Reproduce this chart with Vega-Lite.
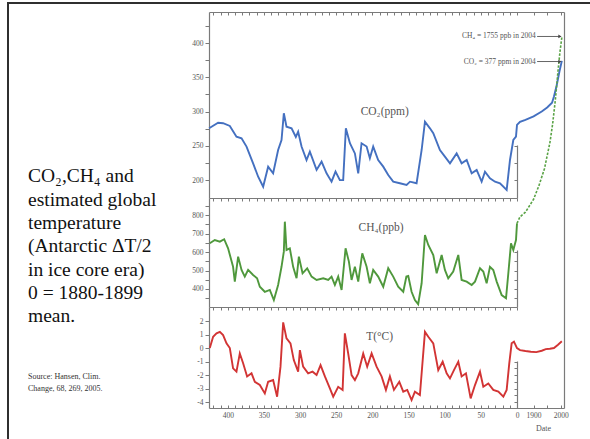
{
  "$schema": "https://vega.github.io/schema/vega-lite/v6.json",
  "width": 582,
  "height": 436,
  "autosize": {"type": "none"},
  "padding": {"left": 8, "top": 3, "right": 0, "bottom": 0},
  "background": "white",
  "config": {
    "view": {"stroke": "#2f2f2f", "strokeWidth": 2, "strokeDash": [582, 1018, 436]},
    "axis": {"grid": false, "domainColor": "#7a7a7a", "domainWidth": 1.2, "tickColor": "#7a7a7a", "tickWidth": 1, "labelFont": "Liberation Serif", "labelFontSize": 7.5, "labelColor": "#555", "labelPadding": 2, "labelOverlap": false, "labelFlush": false},
    "text": {"font": "Liberation Serif"}
  },
  "title": {
    "text": ["CO₂,CH₄ and", "estimated global", "temperature", "(Antarctic ΔT/2", "in ice core era)", "0 = 1880-1899", "mean."],
    "subtitle": ["Source: Hansen, Clim.", "Change, 68, 269, 2005."],
    "anchor": "start", "frame": "group", "orient": "top",
    "dx": 20, "dy": 391, "offset": 0, "baseline": "top",
    "font": "Liberation Serif", "fontSize": 19.5, "fontWeight": "normal", "color": "#111", "lineHeight": 23.3,
    "subtitleFont": "Liberation Serif", "subtitleFontSize": 8, "subtitleColor": "#333", "subtitleLineHeight": 12.3, "subtitlePadding": 46
  },
  "datasets": {
    "co2": [
      {"t":-425.9,"v":275.7},{"t":-413.4,"v":283.8},{"t":-406.5,"v":283},{"t":-397.2,"v":279},{"t":-388,"v":263.4},{"t":-381,"v":261},{"t":-374.1,"v":249},{"t":-365,"v":224.6},{"t":-358,"v":205},{"t":-351.1,"v":190.5},{"t":-344.2,"v":219.7},{"t":-337.3,"v":210},{"t":-330.4,"v":244},{"t":-325.7,"v":258.6},{"t":-322.5,"v":297.5},{"t":-318.8,"v":278},{"t":-311.8,"v":275.6},{"t":-305.9,"v":263},{"t":-302.7,"v":270.7},{"t":-298,"v":249},{"t":-291.1,"v":229.4},{"t":-286.5,"v":241.6},{"t":-277.2,"v":215},{"t":-270.3,"v":227},{"t":-263.4,"v":210},{"t":-256.5,"v":197.8},{"t":-251,"v":212.4},{"t":-245,"v":200},{"t":-240.4,"v":200},{"t":-236.7,"v":275.6},{"t":-231.1,"v":253.8},{"t":-224.2,"v":239},{"t":-219.6,"v":210},{"t":-215,"v":253.8},{"t":-208,"v":249},{"t":-203.5,"v":232},{"t":-198.9,"v":249},{"t":-192,"v":229.4},{"t":-185,"v":219.7},{"t":-178.1,"v":207.6},{"t":-171.2,"v":197.8},{"t":-162,"v":195.5},{"t":-152.7,"v":193},{"t":-148,"v":197.8},{"t":-138.9,"v":195.5},{"t":-131.9,"v":244},{"t":-127.3,"v":285.3},{"t":-120.4,"v":275.6},{"t":-115.8,"v":268.4},{"t":-106.6,"v":244},{"t":-99.7,"v":234.3},{"t":-92.7,"v":224.6},{"t":-83.5,"v":239},{"t":-76.6,"v":224.6},{"t":-69.6,"v":229.4},{"t":-62.7,"v":210},{"t":-55.8,"v":215},{"t":-48.9,"v":197.8},{"t":-44.3,"v":212.4},{"t":-37.4,"v":202.7},{"t":-30.4,"v":197.8},{"t":-23.5,"v":195.5},{"t":-14.3,"v":185.7},{"t":-9.7,"v":229.4},{"t":-5.1,"v":258.6},{"t":-1.4,"v":263.4},{"t":0,"v":280.5},
      {"t":1850,"v":285},{"t":1870,"v":288},{"t":1900,"v":293},{"t":1930,"v":300},{"t":1950,"v":306},{"t":1968,"v":313},{"t":1975,"v":322},{"t":1985,"v":338},{"t":1995,"v":358},{"t":2004,"v":374}
    ],
    "ch4": [
      {"t":-424.9,"v":647},{"t":-418,"v":665},{"t":-411,"v":656},{"t":-405,"v":669},{"t":-399.6,"v":620},{"t":-392.7,"v":520},{"t":-390.3,"v":440},{"t":-385.7,"v":575},{"t":-381,"v":503},{"t":-376.5,"v":467},{"t":-371.9,"v":503},{"t":-365,"v":476},{"t":-359.5,"v":458},{"t":-355.7,"v":412},{"t":-348.8,"v":385},{"t":-341.9,"v":395},{"t":-336.3,"v":340},{"t":-330.4,"v":422},{"t":-325.7,"v":520},{"t":-322.5,"v":602},{"t":-321.1,"v":764},{"t":-318.8,"v":611},{"t":-314.2,"v":620},{"t":-309.6,"v":520},{"t":-304.9,"v":458},{"t":-301.7,"v":575},{"t":-296.6,"v":485},{"t":-290.2,"v":512},{"t":-284.1,"v":467},{"t":-277.2,"v":449},{"t":-268,"v":458},{"t":-261.1,"v":449},{"t":-256.5,"v":467},{"t":-251.9,"v":422},{"t":-247.3,"v":467},{"t":-242.6,"v":395},{"t":-237.1,"v":620},{"t":-232.5,"v":548},{"t":-228.8,"v":449},{"t":-224.2,"v":520},{"t":-219.6,"v":440},{"t":-214,"v":593},{"t":-208,"v":520},{"t":-203.5,"v":431},{"t":-198.9,"v":503},{"t":-192,"v":467},{"t":-185,"v":412},{"t":-178.1,"v":512},{"t":-171.2,"v":467},{"t":-164.3,"v":412},{"t":-157.3,"v":385},{"t":-153,"v":467},{"t":-150.4,"v":470},{"t":-145.8,"v":385},{"t":-141.2,"v":340},{"t":-136.7,"v":318},{"t":-131.9,"v":431},{"t":-127.3,"v":692},{"t":-122.7,"v":638},{"t":-115.8,"v":584},{"t":-111.1,"v":485},{"t":-104.2,"v":584},{"t":-99.7,"v":503},{"t":-95.1,"v":458},{"t":-88.2,"v":494},{"t":-81.2,"v":584},{"t":-76.6,"v":449},{"t":-69.6,"v":440},{"t":-62.7,"v":422},{"t":-58.1,"v":440},{"t":-51.2,"v":512},{"t":-46.6,"v":494},{"t":-42,"v":431},{"t":-37.4,"v":520},{"t":-32.8,"v":503},{"t":-28.1,"v":440},{"t":-21.2,"v":367},{"t":-15.2,"v":350},{"t":-12,"v":485},{"t":-8.3,"v":647},{"t":-5.1,"v":611},{"t":-1.4,"v":665},{"t":0,"v":755}
    ],
    "ch4m": [
      {"t":0,"v":755},{"t":1850,"v":790},{"t":1870,"v":815},{"t":1900,"v":885},{"t":1920,"v":960},{"t":1940,"v":1050},{"t":1960,"v":1190},{"t":1970,"v":1290},{"t":1980,"v":1420},{"t":1990,"v":1580},{"t":1997,"v":1680},{"t":2004,"v":1760}
    ],
    "temp": [
      {"t":-424.9,"v":0},{"t":-420.3,"v":0.84},{"t":-415.6,"v":1.09},{"t":-411,"v":1.2},{"t":-406.5,"v":0.96},{"t":-401.8,"v":0.35},{"t":-397.2,"v":0},{"t":-392.7,"v":-1.5},{"t":-388,"v":-1.75},{"t":-383.4,"v":-0.4},{"t":-378.8,"v":-1.13},{"t":-373.3,"v":-2.1},{"t":-367.2,"v":-1.87},{"t":-362.6,"v":-2.5},{"t":-355.7,"v":-2.74},{"t":-348.8,"v":-3.36},{"t":-344.2,"v":-2.5},{"t":-337.3,"v":-2.37},{"t":-331.8,"v":-3.6},{"t":-327.1,"v":-1.38},{"t":-323.4,"v":1.9},{"t":-318.8,"v":0.72},{"t":-313.3,"v":0.35},{"t":-308.7,"v":-0.89},{"t":-302.7,"v":-1.75},{"t":-300.3,"v":-0.15},{"t":-295.8,"v":-1.38},{"t":-288.9,"v":-1.87},{"t":-282.8,"v":-1.75},{"t":-277.2,"v":-2},{"t":-271.7,"v":-1.26},{"t":-265.7,"v":-2.1},{"t":-258.8,"v":-2.99},{"t":-254.2,"v":-3.6},{"t":-247.3,"v":-2.87},{"t":-241.2,"v":-3.1},{"t":-238.1,"v":1.09},{"t":-233.5,"v":-0.4},{"t":-228.8,"v":-2},{"t":-224.2,"v":-2.37},{"t":-219.6,"v":-1.87},{"t":-212.7,"v":-0.4},{"t":-207.2,"v":-1.38},{"t":-201.1,"v":-0.4},{"t":-194.2,"v":-1.38},{"t":-187.3,"v":-2.1},{"t":-181.3,"v":-3.1},{"t":-175.8,"v":-2.1},{"t":-170.2,"v":-3.1},{"t":-162.8,"v":-2.5},{"t":-157.3,"v":-3.23},{"t":-151.8,"v":-3.1},{"t":-145.8,"v":-3.85},{"t":-141.2,"v":-3.23},{"t":-134.3,"v":-3.48},{"t":-127.3,"v":1.2},{"t":-122.7,"v":0.84},{"t":-115.8,"v":0.35},{"t":-108.9,"v":-1.63},{"t":-102.8,"v":-1.01},{"t":-97.3,"v":-1.87},{"t":-92.7,"v":-2.25},{"t":-87.2,"v":-1.63},{"t":-81.2,"v":-1.01},{"t":-76.6,"v":-2.1},{"t":-70.6,"v":-1.87},{"t":-64.1,"v":-3.73},{"t":-58.1,"v":-2.74},{"t":-51.2,"v":-1.75},{"t":-46.6,"v":-2.87},{"t":-39.7,"v":-2.62},{"t":-32.8,"v":-3.1},{"t":-25.8,"v":-3.23},{"t":-18.9,"v":-3.6},{"t":-14.3,"v":-3.1},{"t":-10.7,"v":-1.13},{"t":-7.4,"v":0.35},{"t":-4.2,"v":0.47},{"t":0,"v":0},
      {"t":1850,"v":-0.15},{"t":1870,"v":-0.22},{"t":1890,"v":-0.27},{"t":1910,"v":-0.3},{"t":1930,"v":-0.2},{"t":1945,"v":-0.08},{"t":1960,"v":-0.05},{"t":1975,"v":0},{"t":1990,"v":0.25},{"t":2004,"v":0.5}
    ]
  },
  "layer": [
    {
      "data": {"name": "co2"},
      "mark": {"type": "line", "color": "#4470c0", "strokeWidth": 1.9},
      "encoding": {
        "x": {"field": "t", "type": "quantitative", "scale": {"domain": [-426, 0, 1850, 2012], "range": [201, 509, 512, 556], "nice": false, "zero": false},
              "axis": {"orient": "top", "offset": -9, "values": [-420,-410,-400,-390,-380,-370,-360,-350,-340,-330,-320,-310,-300,-290,-280,-270,-260,-250,-240,-230,-220,-210,-200,-190,-180,-170,-160,-150,-140,-130,-120,-110,-100,-90,-80,-70,-60,-50,-40,-30,-20,-10,0,1900,1950,2000], "labels": false, "tickSize": -3, "title": null}},
        "y": {"field": "v", "type": "quantitative", "scale": {"domain": [174, 445.2], "range": [195, 9], "nice": false, "zero": false},
              "axis": {"orient": "left", "offset": -201, "values": [200,225,250,275,300,325,350,375,400,425], "labelExpr": "datum.value % 50 === 0 ? '' + datum.value : ''", "tickSize": 4, "title": null}}
      }
    },
    {
      "data": {"name": "ch4"},
      "mark": {"type": "line", "color": "#4f983c", "strokeWidth": 1.9},
      "encoding": {
        "x": {"field": "t", "type": "quantitative", "scale": {"domain": [-426, 0], "range": [201, 509], "nice": false, "zero": false},
              "axis": {"orient": "top", "offset": -195, "values": [-420,-410,-400,-390,-380,-370,-360,-350,-340,-330,-320,-310,-300,-290,-280,-270,-260,-250,-240,-230,-220,-210,-200,-190,-180,-170,-160,-150,-140,-130,-120,-110,-100,-90,-80,-70,-60,-50,-40,-30,-20,-10,0], "labels": false, "tickSize": -3, "title": null}},
        "y": {"field": "v", "type": "quantitative", "scale": {"domain": [302.7, 891.9], "range": [304, 195], "nice": false, "zero": false},
              "axis": {"orient": "left", "offset": -201, "values": [350,400,450,500,550,600,650,700,750,800,850], "labelExpr": "datum.value % 100 === 0 ? '' + datum.value : ''", "tickSize": 4, "title": null}}
      }
    },
    {
      "data": {"name": "ch4m"},
      "mark": {"type": "line", "color": "#5aa346", "strokeWidth": 1.6, "strokeDash": [2.5, 1.5]},
      "encoding": {
        "x": {"field": "t", "type": "quantitative", "scale": {"domain": [-426, 0, 1850, 2012], "range": [201, 509, 512, 556], "nice": false, "zero": false}, "axis": null},
        "y": {"field": "v", "type": "quantitative", "scale": {"domain": [302.7, 891.9], "range": [304, 195], "nice": false, "zero": false}, "axis": null}
      }
    },
    {
      "data": {"name": "temp"},
      "mark": {"type": "line", "color": "#d23434", "strokeWidth": 1.9},
      "encoding": {
        "x": {"field": "t", "type": "quantitative", "scale": {"domain": [-426, 0, 1850, 2012], "range": [201, 509, 512, 556], "nice": false, "zero": false},
              "axis": {"orient": "bottom", "offset": -31, "values": [-420,-410,-400,-390,-380,-370,-360,-350,-340,-330,-320,-310,-300,-290,-280,-270,-260,-250,-240,-230,-220,-210,-200,-190,-180,-170,-160,-150,-140,-130,-120,-110,-100,-90,-80,-70,-60,-50,-40,-30,-20,-10,0,1900,1950,2000],
                       "labelExpr": "datum.value > 1000 ? (datum.value % 100 === 0 ? '' + datum.value : '') : (datum.value % 50 === 0 ? '' + abs(datum.value) : '')",
                       "tickSize": -3, "labelPadding": 6, "title": "Date", "titleFont": "Liberation Serif", "titleFontSize": 8, "titleFontWeight": "normal", "titleColor": "#555", "titleX": 535, "titleY": 20, "titleAlign": "center", "titleBaseline": "middle"}},
        "y": {"field": "v", "type": "quantitative", "scale": {"domain": [-4.44, 3.04], "range": [405, 304], "nice": false, "zero": false},
              "axis": {"orient": "left", "offset": -201, "values": [-4,-3,-2,-1,0,1,2], "labelExpr": "'' + datum.value", "tickSize": 4, "title": null}}
      }
    },
    {
      "data": {"name": "temp"},
      "mark": {"type": "point", "opacity": 0},
      "encoding": {
        "x": {"field": "t", "type": "quantitative", "scale": {"domain": [-426, 0], "range": [201, 509], "nice": false, "zero": false},
              "axis": {"orient": "top", "offset": -304, "values": [-420,-410,-400,-390,-380,-370,-360,-350,-340,-330,-320,-310,-300,-290,-280,-270,-260,-250,-240,-230,-220,-210,-200,-190,-180,-170,-160,-150,-140,-130,-120,-110,-100,-90,-80,-70,-60,-50,-40,-30,-20,-10,0], "labels": false, "tickSize": -3, "title": null}},
        "y": {"field": "v", "type": "quantitative", "scale": {"domain": [-4.44, -0.96], "range": [405, 358], "nice": false, "zero": false},
              "axis": {"orient": "right", "offset": -73, "values": [-4,-3.5,-3,-2.5,-2,-1.5,-1], "labels": false, "tickSize": -3, "title": null}}
      }
    },
    {
      "data": {"name": "temp"},
      "mark": {"type": "point", "opacity": 0},
      "encoding": {
        "x": {"field": "t", "type": "quantitative", "scale": {"domain": [-426, 0, 1850, 2012], "range": [201, 509, 512, 556], "nice": false, "zero": false}, "axis": null},
        "y": {"field": "v", "type": "quantitative", "scale": {"domain": [-4.44, 3.04], "range": [405, 9], "nice": false, "zero": false},
              "axis": {"orient": "right", "offset": -26, "ticks": false, "labels": false, "title": null}}
      }
    },
    {
      "data": {"name": "co2"},
      "mark": {"type": "point", "opacity": 0},
      "encoding": {
        "x": {"field": "t", "type": "quantitative", "scale": {"domain": [-426, 0, 1850, 2012], "range": [201, 509, 512, 556], "nice": false, "zero": false}, "axis": null},
        "y": {"field": "v", "type": "quantitative", "scale": {"domain": [174, 251.3], "range": [195, 142], "nice": false, "zero": false},
              "axis": {"orient": "right", "offset": -73, "values": [200, 225, 250], "labels": false, "tickSize": -3, "title": null}}
      }
    },
    {
      "data": {"name": "ch4"},
      "mark": {"type": "point", "opacity": 0},
      "encoding": {
        "x": {"field": "t", "type": "quantitative", "scale": {"domain": [-426, 0, 1850, 2012], "range": [201, 509, 512, 556], "nice": false, "zero": false}, "axis": null},
        "y": {"field": "v", "type": "quantitative", "scale": {"domain": [302.7, 611], "range": [304, 247], "nice": false, "zero": false},
              "axis": {"orient": "right", "offset": -73, "values": [350, 400, 450, 500, 550, 600], "labels": false, "tickSize": -3, "title": null}}
      }
    },
    {
      "data": {"values": [{"label": "CO₂(ppm)"}]},
      "mark": {"type": "text", "fontSize": 11.5, "color": "#555", "align": "center", "baseline": "middle"},
      "encoding": {
        "x": {"datum": -183, "type": "quantitative", "scale": {"domain": [-426, 0, 1850, 2012], "range": [201, 509, 512, 556], "nice": false, "zero": false}, "axis": null},
        "y": {"datum": 300, "type": "quantitative", "scale": {"domain": [174, 445.2], "range": [195, 9], "nice": false, "zero": false}, "axis": null},
        "text": {"field": "label"}
      }
    },
    {
      "data": {"values": [{"label": "CH₄(ppb)"}]},
      "mark": {"type": "text", "fontSize": 11.5, "color": "#555", "align": "center", "baseline": "middle"},
      "encoding": {
        "x": {"datum": -188, "type": "quantitative", "scale": {"domain": [-426, 0, 1850, 2012], "range": [201, 509, 512, 556], "nice": false, "zero": false}, "axis": null},
        "y": {"datum": 728, "type": "quantitative", "scale": {"domain": [302.7, 891.9], "range": [304, 195], "nice": false, "zero": false}, "axis": null},
        "text": {"field": "label"}
      }
    },
    {
      "data": {"values": [{"label": "T(°C)"}]},
      "mark": {"type": "text", "fontSize": 11.5, "color": "#555", "align": "center", "baseline": "middle"},
      "encoding": {
        "x": {"datum": -190, "type": "quantitative", "scale": {"domain": [-426, 0, 1850, 2012], "range": [201, 509, 512, 556], "nice": false, "zero": false}, "axis": null},
        "y": {"datum": 0.84, "type": "quantitative", "scale": {"domain": [-4.44, 3.04], "range": [405, 304], "nice": false, "zero": false}, "axis": null},
        "text": {"field": "label"}
      }
    },
    {
      "data": {"values": [{"label": "CH₄ = 1755 ppb in 2004"}]},
      "mark": {"type": "text", "fontSize": 7.5, "color": "#555", "align": "right", "baseline": "middle", "dx": -1},
      "encoding": {
        "x": {"datum": 1912, "type": "quantitative", "scale": {"domain": [-426, 0, 1850, 2012], "range": [201, 509, 512, 556], "nice": false, "zero": false}, "axis": null},
        "y": {"datum": 1765, "type": "quantitative", "scale": {"domain": [302.7, 891.9], "range": [304, 195], "nice": false, "zero": false}, "axis": null},
        "text": {"field": "label"}
      }
    },
    {
      "data": {"values": [{"label": "arrow"}]},
      "mark": {"type": "rule", "color": "#555", "strokeWidth": 0.9},
      "encoding": {
        "x": {"datum": 1913, "type": "quantitative", "scale": {"domain": [-426, 0, 1850, 2012], "range": [201, 509, 512, 556], "nice": false, "zero": false}, "axis": null},
        "x2": {"datum": 1998},
        "y": {"datum": 1765, "type": "quantitative", "scale": {"domain": [302.7, 891.9], "range": [304, 195], "nice": false, "zero": false}, "axis": null}
      }
    },
    {
      "data": {"values": [{"label": "arrow"}]},
      "mark": {"type": "point", "shape": "triangle-right", "filled": true, "color": "#444", "size": 14, "opacity": 1},
      "encoding": {
        "x": {"datum": 1997, "type": "quantitative", "scale": {"domain": [-426, 0, 1850, 2012], "range": [201, 509, 512, 556], "nice": false, "zero": false}, "axis": null},
        "y": {"datum": 1765, "type": "quantitative", "scale": {"domain": [302.7, 891.9], "range": [304, 195], "nice": false, "zero": false}, "axis": null}
      }
    },
    {
      "data": {"values": [{"label": "CO₂ = 377 ppm in 2004"}]},
      "mark": {"type": "text", "fontSize": 7.5, "color": "#555", "align": "right", "baseline": "middle", "dx": -1},
      "encoding": {
        "x": {"datum": 1912, "type": "quantitative", "scale": {"domain": [-426, 0, 1850, 2012], "range": [201, 509, 512, 556], "nice": false, "zero": false}, "axis": null},
        "y": {"datum": 373, "type": "quantitative", "scale": {"domain": [174, 445.2], "range": [195, 9], "nice": false, "zero": false}, "axis": null},
        "text": {"field": "label"}
      }
    },
    {
      "data": {"values": [{"label": "arrow"}]},
      "mark": {"type": "rule", "color": "#555", "strokeWidth": 0.9},
      "encoding": {
        "x": {"datum": 1913, "type": "quantitative", "scale": {"domain": [-426, 0, 1850, 2012], "range": [201, 509, 512, 556], "nice": false, "zero": false}, "axis": null},
        "x2": {"datum": 1998},
        "y": {"datum": 373, "type": "quantitative", "scale": {"domain": [174, 445.2], "range": [195, 9], "nice": false, "zero": false}, "axis": null}
      }
    },
    {
      "data": {"values": [{"label": "arrow"}]},
      "mark": {"type": "point", "shape": "triangle-right", "filled": true, "color": "#444", "size": 14, "opacity": 1},
      "encoding": {
        "x": {"datum": 1997, "type": "quantitative", "scale": {"domain": [-426, 0, 1850, 2012], "range": [201, 509, 512, 556], "nice": false, "zero": false}, "axis": null},
        "y": {"datum": 373, "type": "quantitative", "scale": {"domain": [174, 445.2], "range": [195, 9], "nice": false, "zero": false}, "axis": null}
      }
    }
  ],
  "resolve": {"scale": {"x": "independent", "y": "independent"}, "axis": {"x": "independent", "y": "independent"}}
}
